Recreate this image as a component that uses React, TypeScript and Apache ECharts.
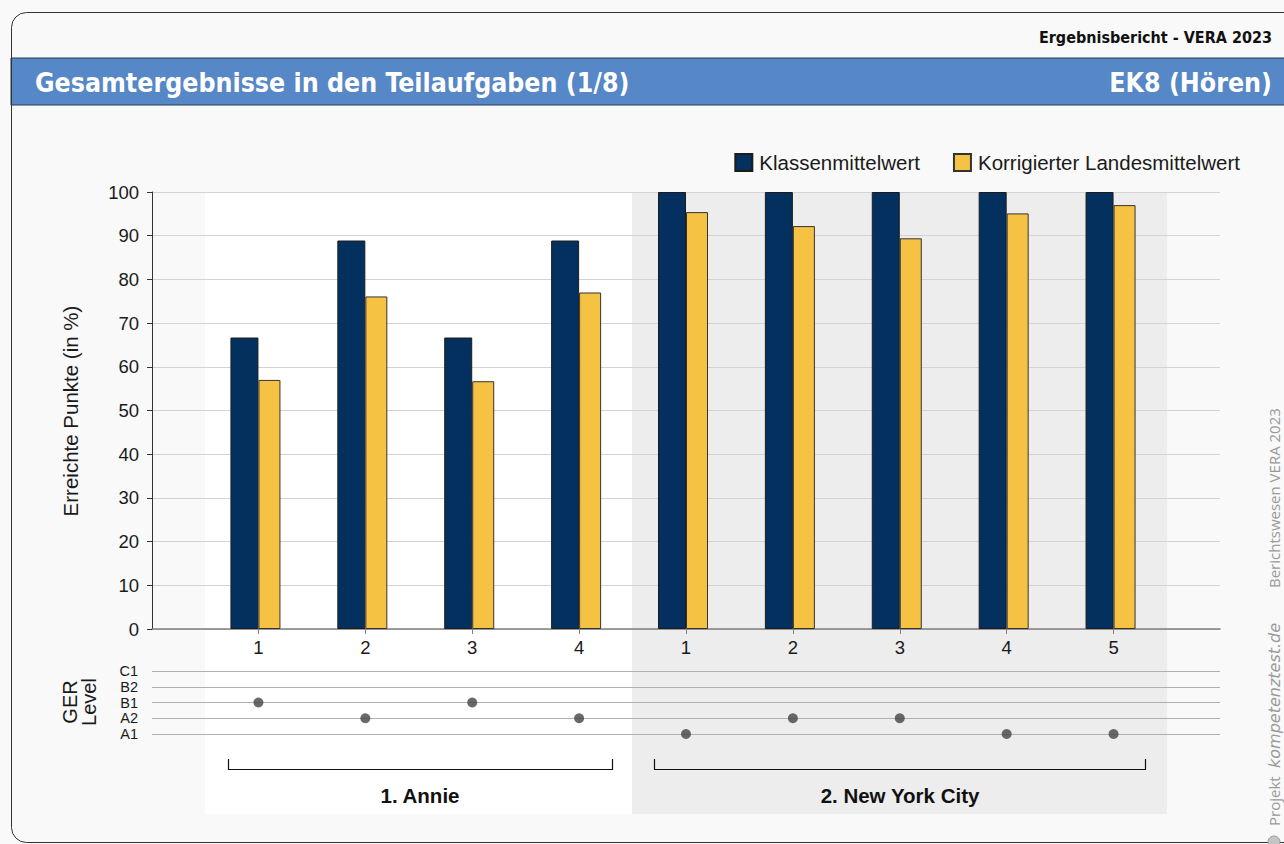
import React, { useEffect, useRef } from 'react';
import * as echarts from 'echarts';

// ---------- data ----------
const taskLabels = ['1', '2', '3', '4', '1', '2', '3', '4', '5'];
const klassenmittelwert = [66.7, 88.9, 66.7, 88.9, 100, 100, 100, 100, 100];
const landesmittelwert = [57.0, 76.1, 56.7, 77.0, 95.4, 92.2, 89.4, 95.1, 97.0];
const gerAxisLevels = ['A1', 'A2', 'B1', 'B2', 'C1'];
const gerLevels = ['B1', 'A2', 'B1', 'A2', 'A1', 'A2', 'A2', 'A1', 'A1'];
const groupNames = ['1. Annie', '2. New York City'];
const seriesNames = ['Klassenmittelwert', 'Korrigierter Landesmittelwert'];

const F = '"Liberation Sans", Arial, Helvetica, sans-serif';
const HF = '"DejaVu Sans Condensed", "DejaVu Sans", sans-serif';
const SF = '"Open Sans", "DejaVu Sans", sans-serif';

function txt(x: number, y: number, text: string, o: any = {}, extra: any = {}) {
  return {
    type: 'text',
    x,
    y,
    ...extra,
    style: {
      text,
      fill: '#1a1a1a',
      fontFamily: F,
      fontSize: 16,
      align: 'left',
      textAlign: 'left',
      verticalAlign: 'middle',
      textVerticalAlign: 'middle',
      ...o,
    },
  };
}

export default function App() {
  const ref = useRef<HTMLDivElement>(null);

  useEffect(() => {
    const chart = echarts.init(ref.current!, null, { renderer: 'svg' });
    const R = Math.PI / 2;
    const option: any = {
      animation: false,
      backgroundColor: '#f8f9f8',
      textStyle: { fontFamily: F },
      legend: {
        data: seriesNames,
        right: 39,
        top: 147,
        icon: 'rect',
        itemWidth: 17,
        itemHeight: 17,
        itemGap: 33,
        selectedMode: false,
        textStyle: { fontSize: 20.5, color: '#1a1a1a', fontFamily: F, padding: [0, 0, 0, 2] },
      },
      grid: [
        { left: 152, top: 192, width: 1068, height: 437 },
        { left: 205, top: 192, width: 962, height: 437 },
        { left: 152, top: 671, width: 1068, height: 63 },
        { left: 205, top: 671, width: 962, height: 63 },
      ],
      xAxis: [
        {
          gridIndex: 0,
          type: 'value',
          min: 0,
          max: 1,
          axisLine: { show: true, onZero: false, lineStyle: { color: '#7f7f7f', width: 1.5 } },
          axisTick: { show: false },
          axisLabel: { show: false },
          splitLine: { show: false },
        },
        {
          gridIndex: 1,
          type: 'category',
          data: taskLabels.map((_, i) => 't' + i),
          axisLine: { show: false },
          axisTick: { show: true, alignWithLabel: true, interval: 0, length: 5, lineStyle: { color: '#7f7f7f' } },
          axisLabel: {
            interval: 0,
            formatter: (_v: string, i: number) => taskLabels[i],
            fontSize: 18.5,
            color: '#1a1a1a',
            margin: 9,
          },
          splitLine: { show: false },
        },
        { gridIndex: 2, type: 'value', min: 0, max: 1, show: false },
        { gridIndex: 3, type: 'category', data: taskLabels.map((_, i) => 't' + i), show: false },
      ],
      yAxis: [
        {
          gridIndex: 0,
          type: 'value',
          min: 0,
          max: 100,
          interval: 10,
          axisLine: { show: true, onZero: false, lineStyle: { color: '#333' } },
          axisTick: { show: true, length: 5, lineStyle: { color: '#333' } },
          axisLabel: { fontSize: 18.5, color: '#1a1a1a', margin: 13 },
          splitLine: { show: true, lineStyle: { color: '#d3d3d3' } },
        },
        { gridIndex: 1, type: 'value', min: 0, max: 100, show: false },
        {
          gridIndex: 2,
          type: 'category',
          data: gerAxisLevels,
          boundaryGap: false,
          axisLine: { show: false },
          axisTick: { show: false, interval: 0 },
          axisLabel: { interval: 0, fontSize: 14.5, color: '#1a1a1a', margin: 14, lineHeight: 14 },
          splitLine: { show: true, interval: 0, lineStyle: { color: '#b0b0b0' } },
        },
        { gridIndex: 3, type: 'category', data: gerAxisLevels, boundaryGap: false, show: false },
      ],
      series: [
        {
          name: seriesNames[0],
          type: 'bar',
          xAxisIndex: 1,
          yAxisIndex: 1,
          data: klassenmittelwert,
          barWidth: 28,
          barGap: 0,
          itemStyle: { color: '#03305f', borderColor: '#1c1c1c', borderWidth: 1 },
        },
        {
          name: seriesNames[1],
          type: 'bar',
          xAxisIndex: 1,
          yAxisIndex: 1,
          data: landesmittelwert,
          barWidth: 22,
          barGap: 0,
          itemStyle: { color: '#f6c243', borderColor: '#333', borderWidth: 1 },
        },
        {
          name: 'spacer',
          type: 'bar',
          xAxisIndex: 1,
          yAxisIndex: 1,
          data: [],
          barWidth: 6,
          barGap: 0,
          silent: true,
          itemStyle: { color: 'transparent' },
        },
        {
          name: 'GER',
          type: 'scatter',
          xAxisIndex: 3,
          yAxisIndex: 3,
          data: gerLevels.map((l, i) => [i, l]),
          symbolSize: 10,
          itemStyle: { color: '#444' },
          silent: true,
        },
      ],
      graphic: [
        // background bands
        { type: 'rect', z: -100, shape: { x: 205, y: 192, width: 427, height: 622 }, style: { fill: '#ffffff' } },
        { type: 'rect', z: -100, shape: { x: 632, y: 192, width: 535, height: 622 }, style: { fill: '#ededed' } },
        // header
        txt(1272, 37, 'Ergebnisbericht - VERA 2023', { fontFamily: HF, fontWeight: 'bold', fontSize: 16, align: 'right', textAlign: 'right', fill: '#111' }),
        { type: 'rect', shape: { x: 11, y: 58, width: 1290, height: 47 }, style: { fill: '#5687c6', stroke: '#2b3a50', lineWidth: 1 } },
        txt(35, 82, 'Gesamtergebnisse in den Teilaufgaben (1/8)', { fontFamily: HF, fontWeight: 'bold', fontSize: 26.5, fill: '#ffffff' }),
        txt(1272, 82, 'EK8 (Hören)', { fontFamily: HF, fontWeight: 'bold', fontSize: 26.5, fill: '#ffffff', align: 'right', textAlign: 'right' }),
        // border
        { type: 'rect', shape: { x: 11.5, y: 12.5, width: 1290, height: 830, r: 15 }, style: { fill: 'none', stroke: '#333', lineWidth: 1 } },
        // axis names
        txt(70, 411, 'Erreichte Punkte (in %)', { fontSize: 20.5, align: 'center', textAlign: 'center' }, { rotation: R }),
        txt(79, 702, 'GER\nLevel', { fontSize: 20, lineHeight: 19, align: 'center', textAlign: 'center' }, { rotation: R }),
        // brackets
        { type: 'polyline', shape: { points: [[228.5, 759], [228.5, 769.5], [612.5, 769.5], [612.5, 759]] }, style: { stroke: '#111', lineWidth: 1.2, fill: 'none' } },
        { type: 'polyline', shape: { points: [[654.5, 759], [654.5, 769.5], [1145.5, 769.5], [1145.5, 759]] }, style: { stroke: '#111', lineWidth: 1.2, fill: 'none' } },
        txt(420, 795, groupNames[0], { fontSize: 20.5, fontWeight: 'bold', align: 'center', textAlign: 'center', fill: '#111' }),
        txt(900, 795, groupNames[1], { fontSize: 20.5, fontWeight: 'bold', align: 'center', textAlign: 'center', fill: '#111' }),
        // right side credits
        txt(1274, 826, 'Projekt', { fontFamily: SF, fontSize: 15, fill: '#9a9a9a' }, { rotation: R }),
        txt(1274, 768, 'kompetenztest.de', { fontFamily: '"DejaVu Sans", sans-serif', fontSize: 16, fontStyle: 'italic', fill: '#9a9a9a' }, { rotation: R }),
        txt(1274, 588, 'Berichtswesen VERA 2023', { fontFamily: SF, fontSize: 15, fill: '#9a9a9a' }, { rotation: R }),
        { type: 'circle', shape: { cx: 1274, cy: 842, r: 6 }, style: { fill: '#c4c4c4', stroke: '#9a9a9a', lineWidth: 1 } },
      ],
    };
    chart.setOption(option);
    return () => chart.dispose();
  }, []);

  return (
    <div
      ref={ref}
      style={{ position: 'absolute', left: 0, top: 0, width: 1284, height: 844, background: '#f8f9f8' }}
    />
  );
}
